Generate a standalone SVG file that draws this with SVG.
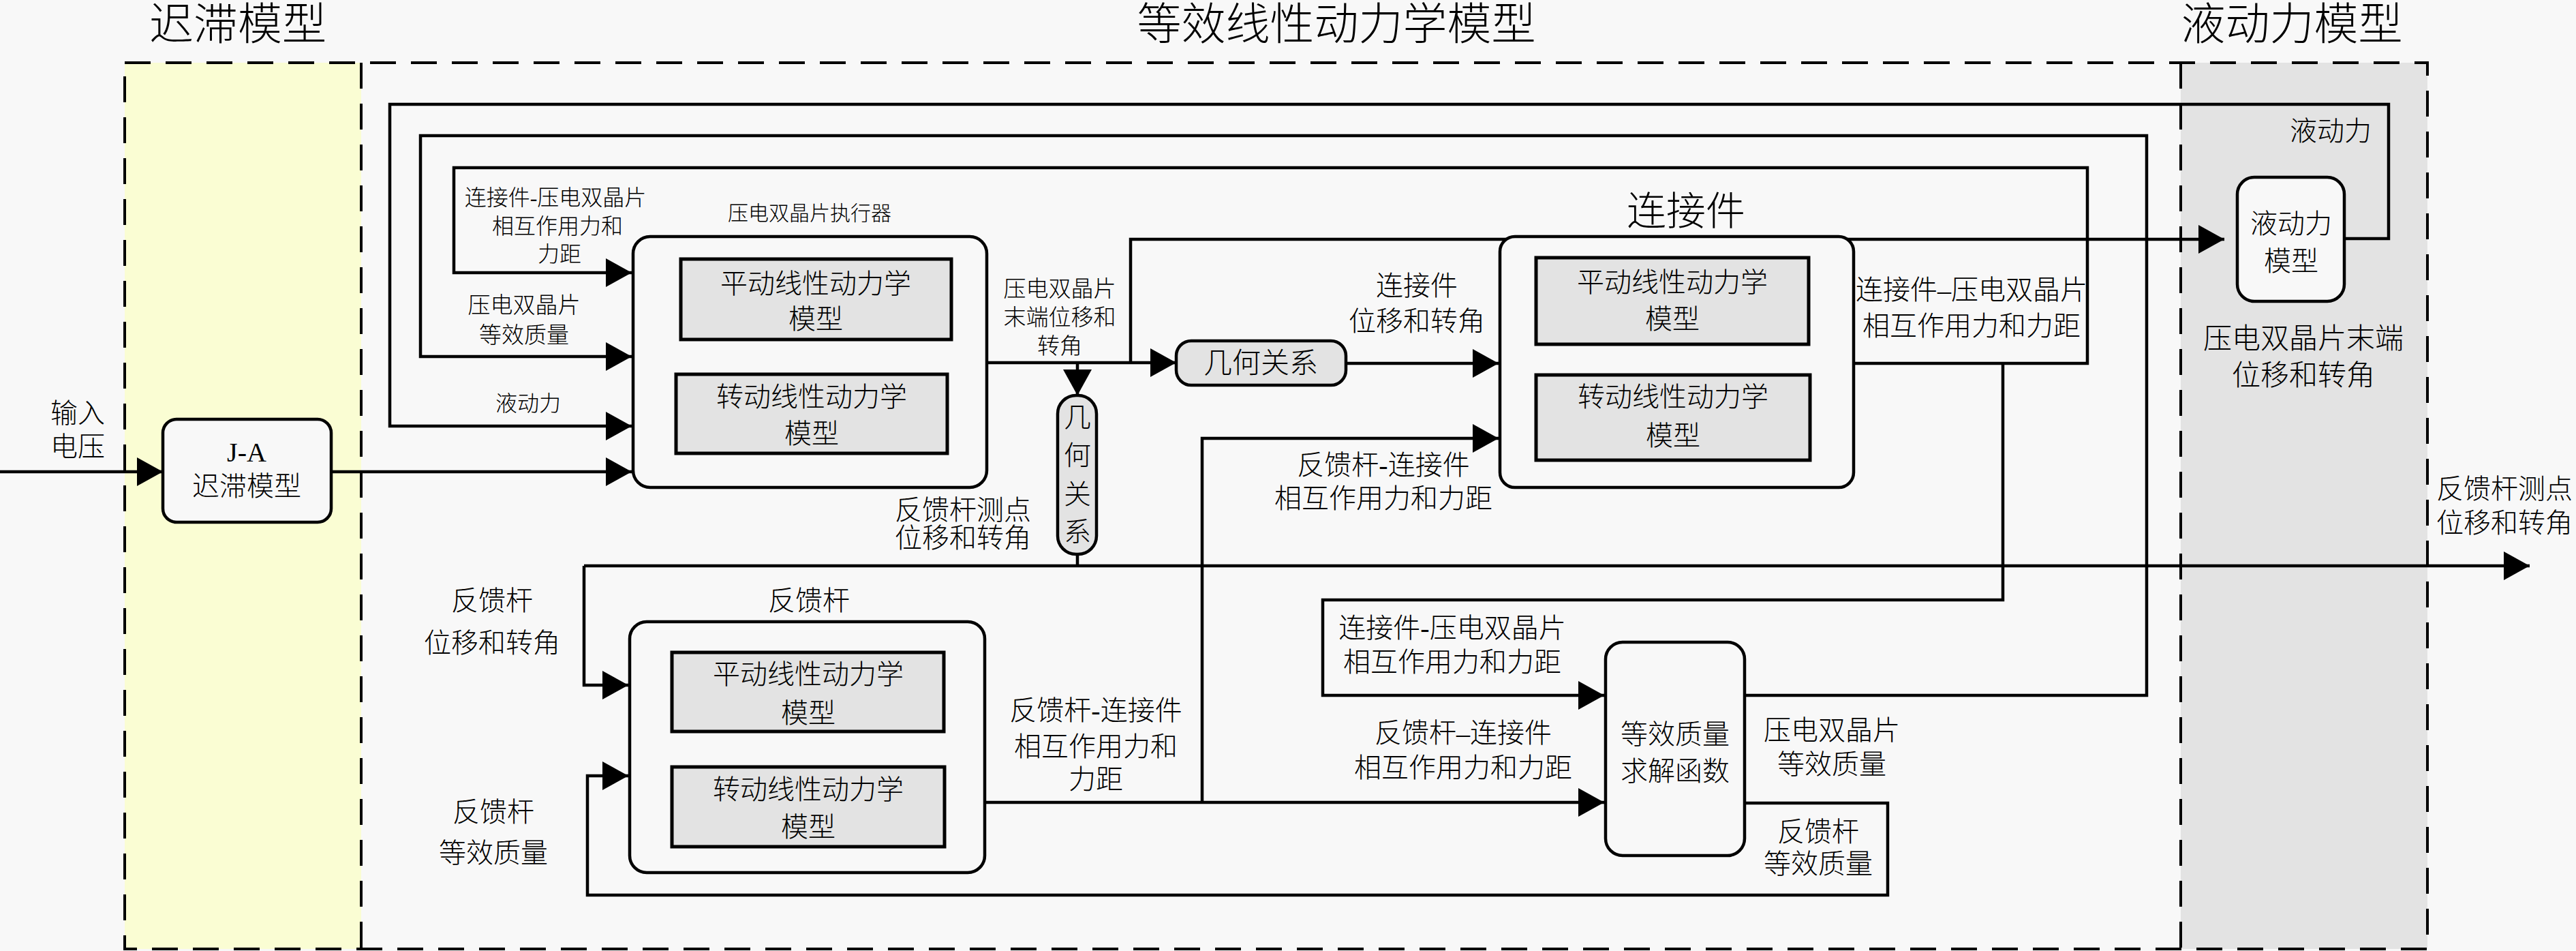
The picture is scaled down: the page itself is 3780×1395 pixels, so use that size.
<svg xmlns="http://www.w3.org/2000/svg" width="3780" height="1395" viewBox="0 0 3780 1395">
<defs>
<style>
.t{font-family:"Liberation Serif","Noto Sans CJK SC",serif;font-weight:300;fill:#000;text-anchor:middle;dominant-baseline:central}
.f64{font-size:65px}.f58{font-size:58px}.f42{font-size:42px}.f40{font-size:40px}.f34{font-size:33px}.f32{font-size:32px}.f30{font-size:30px}
.box{fill:#F8F8F8;stroke:#000;stroke-width:4.5}
.gbox{fill:#E3E3E3;stroke:#000;stroke-width:5}
.ln{fill:none;stroke:#000;stroke-width:4.5}
.dash{fill:none;stroke:#000;stroke-width:4;stroke-dasharray:38 22}
</style>
<marker id="ah" markerUnits="userSpaceOnUse" markerWidth="40" markerHeight="44" refX="38" refY="21" orient="auto"><path d="M0,0 L38,21 L0,42 z" fill="#000"/></marker>
</defs>
<rect x="0" y="0" width="3780" height="1395" fill="#F8F8F8"/>
<g id="regions">
<rect x="183" y="92" width="347" height="1300" fill="#FAFDD3"/>
<rect x="3200" y="92" width="362" height="1300" fill="#E3E3E3"/>
<rect class="dash" x="183" y="92" width="3379" height="1300"/>
<line class="dash" x1="530" y1="92" x2="530" y2="1392"/>
<line class="dash" x1="3200" y1="92" x2="3200" y2="1392"/>
<text class="t f64" x="349" y="36">迟滞模型</text>
<text class="t f64" x="1961" y="36">等效线性动力学模型</text>
<text class="t f64" x="3363" y="36">液动力模型</text>
</g>
<g id="connectors">
<path class="ln" d="M0,692 H239" marker-end="url(#ah)"/>
<path class="ln" d="M486,692 H927" marker-end="url(#ah)"/>
<path class="ln" d="M3440,350 H3505 V153 H572 V625 H927" marker-end="url(#ah)"/>
<path class="ln" d="M2560,1020 H3150 V199 H617 V523 H927" marker-end="url(#ah)"/>
<path class="ln" d="M2720,533 H3063 V246 H666 V400 H927" marker-end="url(#ah)"/>
<path class="ln" d="M2939,533 V880 H1941 V1020 H2354" marker-end="url(#ah)"/>
<path class="ln" d="M1448,532 H1726" marker-end="url(#ah)"/>
<path class="ln" d="M1659,532 V351 H3264" marker-end="url(#ah)"/>
<path class="ln" d="M1581,532 V580" marker-end="url(#ah)"/>
<path class="ln" d="M1975,533 H2199" marker-end="url(#ah)"/>
<path class="ln" d="M1581,813 V830"/>
<path class="ln" d="M857,830 H3712" marker-end="url(#ah)"/>
<path class="ln" d="M857,830 V1005 H922" marker-end="url(#ah)"/>
<path class="ln" d="M1445,1177 H2354" marker-end="url(#ah)"/>
<path class="ln" d="M1764,1177 V643 H2199" marker-end="url(#ah)"/>
<path class="ln" d="M2560,1178 H2770 V1313 H862 V1138 H922" marker-end="url(#ah)"/>
</g>
<g id="labels">
<text class="t f40" x="114" y="606">输入</text>
<text class="t f40" x="114" y="655">电压</text>
<text class="t f32" x="815" y="290">连接件-压电双晶片</text>
<text class="t f32" x="818" y="332">相互作用力和</text>
<text class="t f32" x="821" y="373">力距</text>
<text class="t f34" x="769" y="448">压电双晶片</text>
<text class="t f34" x="769" y="492">等效质量</text>
<text class="t f32" x="775" y="592">液动力</text>
<text class="t f34" x="1555" y="424">压电双晶片</text>
<text class="t f34" x="1555" y="466">末端位移和</text>
<text class="t f34" x="1555" y="508">转角</text>
<text class="t f40" x="1413" y="748">反馈杆测点</text>
<text class="t f40" x="1413" y="789">位移和转角</text>
<text class="t f40" x="2079" y="419">连接件</text>
<text class="t f40" x="2079" y="471">位移和转角</text>
<text class="t f40" x="2030" y="682">反馈杆-连接件</text>
<text class="t f40" x="2030" y="731">相互作用力和力距</text>
<text class="t f40" x="2893" y="425">连接件–压电双晶片</text>
<text class="t f40" x="2893" y="478">相互作用力和力距</text>
<text class="t f40" x="3420" y="192">液动力</text>
<text class="t f42" x="3380" y="497">压电双晶片末端</text>
<text class="t f42" x="3380" y="551">位移和转角</text>
<text class="t f40" x="3675" y="717">反馈杆测点</text>
<text class="t f40" x="3675" y="767">位移和转角</text>
<text class="t f40" x="722" y="881">反馈杆</text>
<text class="t f40" x="722" y="943">位移和转角</text>
<text class="t f40" x="724" y="1191">反馈杆</text>
<text class="t f40" x="724" y="1251">等效质量</text>
<text class="t f40" x="1608" y="1042">反馈杆-连接件</text>
<text class="t f40" x="1608" y="1095">相互作用力和</text>
<text class="t f40" x="1608" y="1143">力距</text>
<text class="t f40" x="2131" y="921">连接件-压电双晶片</text>
<text class="t f40" x="2131" y="971">相互作用力和力距</text>
<text class="t f40" x="2147" y="1075">反馈杆–连接件</text>
<text class="t f40" x="2147" y="1126">相互作用力和力距</text>
<text class="t f40" x="2688" y="1071">压电双晶片</text>
<text class="t f40" x="2688" y="1121">等效质量</text>
<text class="t f40" x="2668" y="1220">反馈杆</text>
<text class="t f40" x="2668" y="1267">等效质量</text>
</g>
<g id="node-ja">
<rect class="box" x="239" y="615" width="247" height="151" rx="20"/>
<text class="t f40" x="362" y="663">J-A</text>
<text class="t f40" x="362" y="713">迟滞模型</text>
</g>
<g id="node-actuator">
<text class="t f30" x="1188" y="312">压电双晶片执行器</text>
<rect class="box" x="929" y="347" width="519" height="368" rx="25"/>
<rect class="gbox" x="999" y="380" width="397" height="118"/>
<text class="t f40" x="1197" y="416">平动线性动力学</text>
<text class="t f40" x="1197" y="468">模型</text>
<rect class="gbox" x="992" y="549" width="398" height="116"/>
<text class="t f40" x="1191" y="582">转动线性动力学</text>
<text class="t f40" x="1191" y="636">模型</text>
</g>
<g id="node-geo-h">
<rect class="box" x="1726" y="500" width="249" height="65" rx="22" style="fill:#E3E3E3"/>
<text class="t f42" x="1850" y="533">几何关系</text>
</g>
<g id="node-geo-v">
<rect class="box" x="1552" y="580" width="57" height="233" rx="27" style="fill:#E3E3E3"/>
<text class="t f40" x="1581" y="612">几</text>
<text class="t f40" x="1581" y="668">何</text>
<text class="t f40" x="1581" y="725">关</text>
<text class="t f40" x="1581" y="780">系</text>
</g>
<g id="node-connector">
<text class="t f58" x="2474" y="310">连接件</text>
<rect class="box" x="2201" y="347" width="519" height="368" rx="22"/>
<rect class="gbox" x="2254" y="378" width="400" height="127"/>
<text class="t f40" x="2454" y="414">平动线性动力学</text>
<text class="t f40" x="2454" y="468">模型</text>
<rect class="gbox" x="2254" y="550" width="402" height="125"/>
<text class="t f40" x="2455" y="582">转动线性动力学</text>
<text class="t f40" x="2455" y="639">模型</text>
</g>
<g id="node-hydro">
<rect class="box" x="3283" y="260" width="157" height="182" rx="25"/>
<text class="t f40" x="3362" y="328">液动力</text>
<text class="t f40" x="3362" y="383">模型</text>
</g>
<g id="node-feedback">
<text class="t f40" x="1187" y="881">反馈杆</text>
<rect class="box" x="924" y="912" width="521" height="368" rx="25"/>
<rect class="gbox" x="986" y="957" width="399" height="116"/>
<text class="t f40" x="1186" y="989">平动线性动力学</text>
<text class="t f40" x="1186" y="1046">模型</text>
<rect class="gbox" x="986" y="1125" width="400" height="117"/>
<text class="t f40" x="1186" y="1158">转动线性动力学</text>
<text class="t f40" x="1186" y="1213">模型</text>
</g>
<g id="node-mass">
<rect class="box" x="2356" y="942" width="204" height="313" rx="25"/>
<text class="t f40" x="2458" y="1077">等效质量</text>
<text class="t f40" x="2458" y="1131">求解函数</text>
</g>
</svg>
